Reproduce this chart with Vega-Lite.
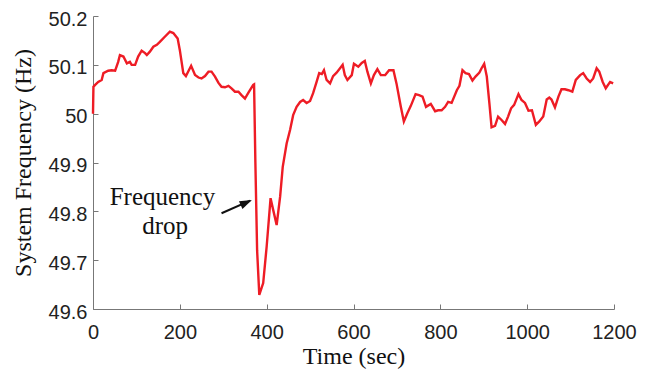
{
  "$schema": "https://vega.github.io/schema/vega-lite/v6.json",
  "width": 521,
  "height": 293,
  "autosize": "none",
  "padding": {"left": 93, "top": 16, "right": 37, "bottom": 65},
  "background": "white",
  "config": {
    "view": {"stroke": null},
    "axis": {
      "grid": false,
      "domainColor": "#777",
      "tickColor": "#777",
      "tickSize": -5,
      "labelFont": "Liberation Sans",
      "labelFontSize": 20,
      "labelColor": "#222",
      "labelFlush": false,
      "titleFont": "Liberation Serif",
      "titleFontSize": 24,
      "titleFontWeight": "normal",
      "titleColor": "#111"
    }
  },
  "datasets": {
    "freq": [
      {"t":0,"f":50.000},{"t":1,"f":50.055},{"t":5,"f":50.059},{"t":12,"f":50.065},{"t":20,"f":50.069},{"t":24,"f":50.083},{"t":35,"f":50.088},{"t":43,"f":50.089},{"t":51,"f":50.088},{"t":58,"f":50.106},{"t":62,"f":50.120},{"t":70,"f":50.117},{"t":78,"f":50.103},{"t":85,"f":50.106},{"t":89,"f":50.100},{"t":97,"f":50.100},{"t":104,"f":50.117},{"t":112,"f":50.129},{"t":120,"f":50.124},{"t":124,"f":50.120},{"t":131,"f":50.127},{"t":139,"f":50.137},{"t":147,"f":50.141},{"t":154,"f":50.147},{"t":166,"f":50.158},{"t":177,"f":50.168},{"t":185,"f":50.165},{"t":195,"f":50.154},{"t":200,"f":50.130},{"t":208,"f":50.083},{"t":214,"f":50.077},{"t":226,"f":50.098},{"t":235,"f":50.079},{"t":243,"f":50.074},{"t":250,"f":50.072},{"t":258,"f":50.077},{"t":266,"f":50.086},{"t":273,"f":50.086},{"t":281,"f":50.076},{"t":289,"f":50.063},{"t":296,"f":50.055},{"t":304,"f":50.054},{"t":312,"f":50.057},{"t":319,"f":50.052},{"t":327,"f":50.045},{"t":335,"f":50.045},{"t":342,"f":50.038},{"t":350,"f":50.031},{"t":358,"f":50.043},{"t":369,"f":50.059},{"t":371,"f":50.060},{"t":374,"f":49.90},{"t":378,"f":49.72},{"t":383,"f":49.629},{"t":392,"f":49.653},{"t":400,"f":49.728},{"t":409,"f":49.827},{"t":415,"f":49.803},{"t":423,"f":49.772},{"t":431,"f":49.830},{"t":437,"f":49.891},{"t":446,"f":49.939},{"t":454,"f":49.967},{"t":461,"f":49.997},{"t":469,"f":50.014},{"t":477,"f":50.024},{"t":484,"f":50.028},{"t":492,"f":50.022},{"t":500,"f":50.026},{"t":507,"f":50.042},{"t":515,"f":50.065},{"t":521,"f":50.083},{"t":527,"f":50.081},{"t":532,"f":50.089},{"t":538,"f":50.069},{"t":546,"f":50.062},{"t":553,"f":50.077},{"t":561,"f":50.084},{"t":569,"f":50.093},{"t":575,"f":50.100},{"t":580,"f":50.079},{"t":586,"f":50.069},{"t":596,"f":50.079},{"t":601,"f":50.102},{"t":611,"f":50.096},{"t":619,"f":50.104},{"t":626,"f":50.108},{"t":632,"f":50.086},{"t":640,"f":50.062},{"t":647,"f":50.079},{"t":655,"f":50.091},{"t":663,"f":50.079},{"t":673,"f":50.079},{"t":682,"f":50.089},{"t":692,"f":50.089},{"t":699,"f":50.062},{"t":709,"f":50.014},{"t":716,"f":49.984},{"t":724,"f":50.001},{"t":732,"f":50.016},{"t":743,"f":50.040},{"t":751,"f":50.038},{"t":759,"f":50.035},{"t":767,"f":50.014},{"t":778,"f":50.020},{"t":788,"f":50.005},{"t":795,"f":50.007},{"t":803,"f":50.007},{"t":811,"f":50.014},{"t":818,"f":50.024},{"t":826,"f":50.022},{"t":838,"f":50.048},{"t":844,"f":50.057},{"t":851,"f":50.089},{"t":858,"f":50.083},{"t":866,"f":50.081},{"t":874,"f":50.068},{"t":881,"f":50.076},{"t":890,"f":50.084},{"t":895,"f":50.093},{"t":901,"f":50.102},{"t":907,"f":50.076},{"t":913,"f":50.021},{"t":918,"f":49.972},{"t":926,"f":49.975},{"t":933,"f":49.994},{"t":941,"f":49.987},{"t":949,"f":49.979},{"t":956,"f":49.994},{"t":963,"f":50.011},{"t":970,"f":50.018},{"t":980,"f":50.040},{"t":987,"f":50.028},{"t":995,"f":50.022},{"t":1003,"f":50.006},{"t":1011,"f":50.007},{"t":1020,"f":49.977},{"t":1028,"f":49.984},{"t":1037,"f":49.994},{"t":1045,"f":50.029},{"t":1051,"f":50.033},{"t":1056,"f":50.029},{"t":1064,"f":50.013},{"t":1072,"f":50.035},{"t":1079,"f":50.050},{"t":1087,"f":50.050},{"t":1095,"f":50.048},{"t":1104,"f":50.045},{"t":1112,"f":50.069},{"t":1122,"f":50.079},{"t":1129,"f":50.083},{"t":1137,"f":50.072},{"t":1145,"f":50.065},{"t":1152,"f":50.072},{"t":1160,"f":50.093},{"t":1166,"f":50.086},{"t":1174,"f":50.065},{"t":1181,"f":50.052},{"t":1191,"f":50.065},{"t":1198,"f":50.062}
    ],
    "labels": [
      {"t": 160, "f": 49.812, "text": "Frequency"},
      {"t": 166, "f": 49.753, "text": "drop"}
    ],
    "arrow": [
      {"t": 296, "f": 49.796, "t2": 362, "f2": 49.822}
    ],
    "head": [
      {"t": 366, "f": 49.823}
    ]
  },
  "layer": [
    {
      "data": {"name": "freq"},
      "mark": {"type": "line", "color": "#ee1c25", "strokeWidth": 2.4, "interpolate": "linear"},
      "encoding": {
        "x": {
          "field": "t", "type": "quantitative",
          "scale": {"domain": [0, 1200], "nice": false, "zero": false},
          "axis": {"values": [0,200,400,600,800,1000,1200], "format": "d", "title": "Time (sec)", "labelPadding": 18, "titlePadding": 2}
        },
        "y": {
          "field": "f", "type": "quantitative",
          "scale": {"domain": [49.6, 50.2], "nice": false, "zero": false},
          "axis": {"values": [49.6,49.7,49.8,49.9,50.0,50.1,50.2], "format": ".1~f", "title": "System Frequency (Hz)", "labelPadding": 11, "labelOffset": 3, "titlePadding": 13}
        }
      }
    },
    {
      "data": {"name": "labels"},
      "mark": {"type": "text", "font": "Liberation Serif", "fontSize": 25, "color": "#111", "align": "center", "baseline": "alphabetic"},
      "encoding": {
        "x": {"field": "t", "type": "quantitative"},
        "y": {"field": "f", "type": "quantitative"},
        "text": {"field": "text"}
      }
    },
    {
      "data": {"name": "arrow"},
      "mark": {"type": "rule", "color": "#111", "strokeWidth": 2},
      "encoding": {
        "x": {"field": "t", "type": "quantitative"},
        "y": {"field": "f", "type": "quantitative"},
        "x2": {"field": "t2"},
        "y2": {"field": "f2"}
      }
    },
    {
      "data": {"name": "head"},
      "mark": {"type": "point", "shape": "M0,0L-2,-0.7L-2,0.7Z", "filled": true, "color": "#111", "size": 150, "angle": -24, "opacity": 1},
      "encoding": {
        "x": {"field": "t", "type": "quantitative"},
        "y": {"field": "f", "type": "quantitative"}
      }
    }
  ]
}
